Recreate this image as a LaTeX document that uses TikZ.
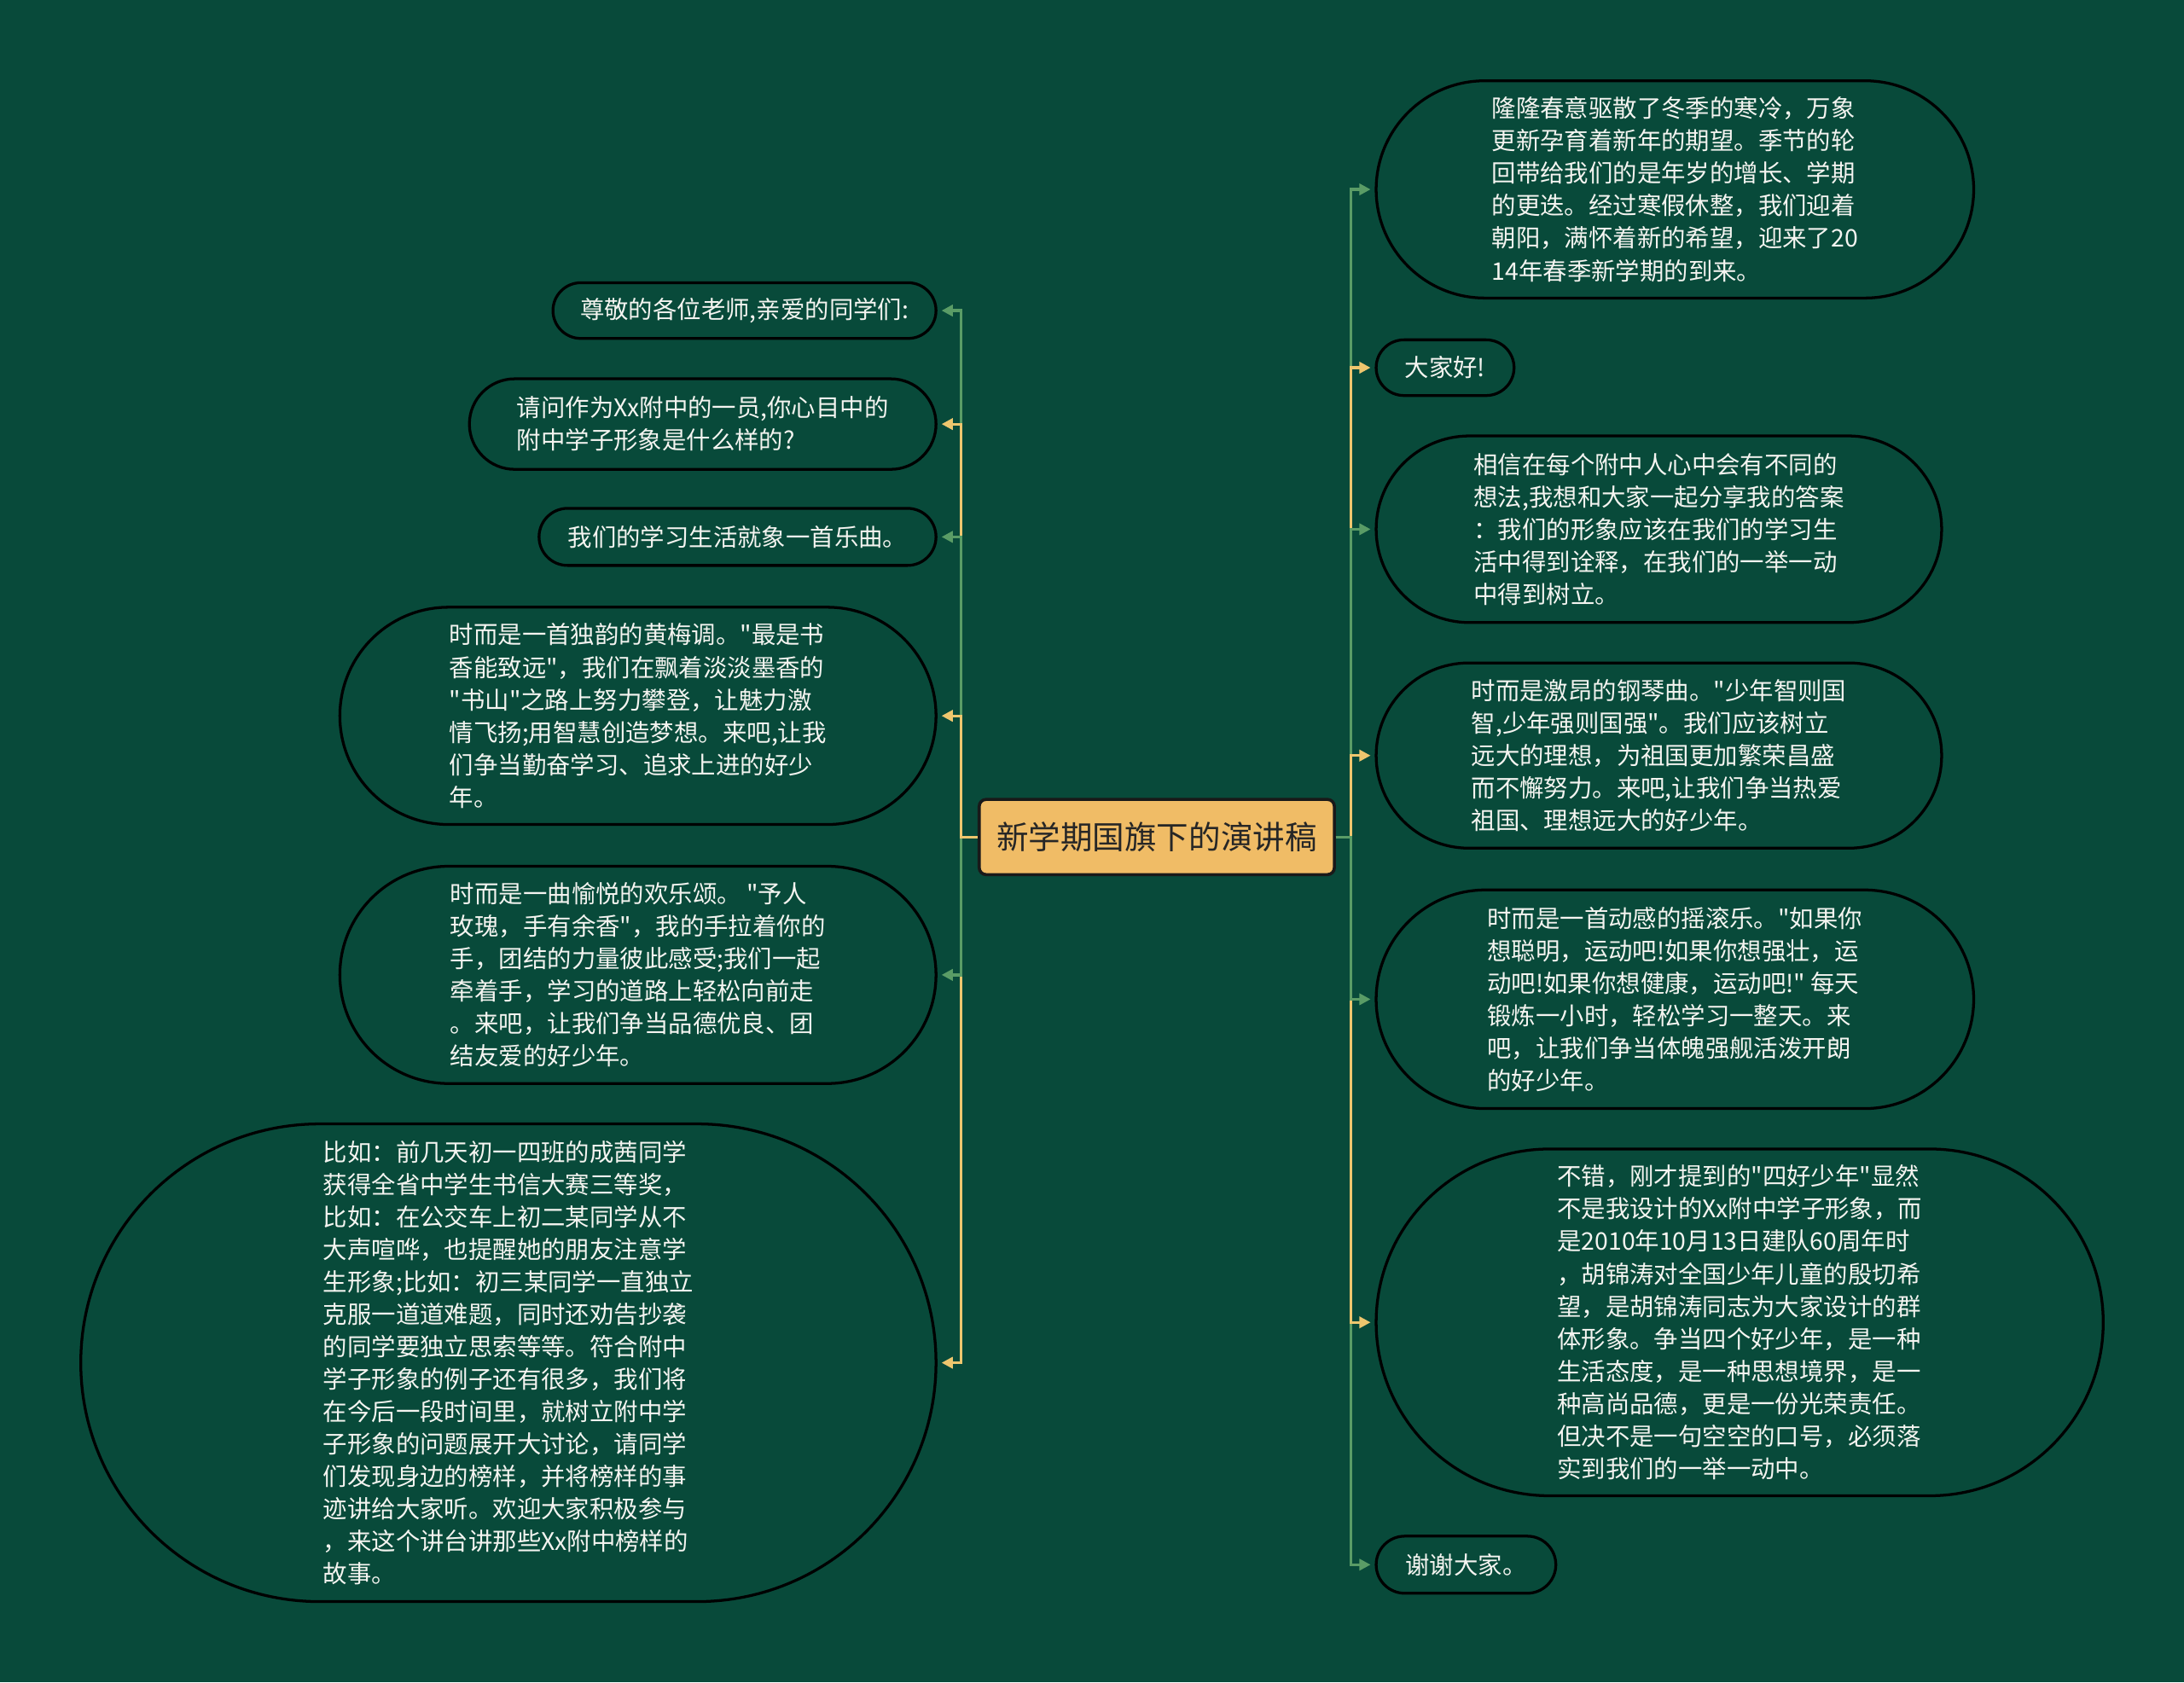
\documentclass[tikz,border=0pt]{standalone}
\usepackage{fontspec}
\newfontfamily\cjk{Noto Sans CJK SC}
\usetikzlibrary{shapes.misc,arrows.meta}
\definecolor{bg}{HTML}{084A3A}
\definecolor{gline}{HTML}{5A9C66}
\definecolor{yline}{HTML}{EEC66E}
\definecolor{rootfill}{HTML}{F0BC66}
\definecolor{txt}{HTML}{F4F4F0}
\tikzset{
  leaf/.style 2 args={shape=rounded rectangle, draw=black, line width=2pt, fill=bg,
    text=txt, align=left, font=\cjk\fontsize{17.4}{23.3}\selectfont,
    inner xsep=0pt, inner ysep=0pt, minimum width=#1, minimum height=#2},
  rootbox/.style={rectangle, rounded corners=5pt, draw=black!90, line width=2.2pt,
    fill=rootfill, text=black!85, font=\cjk\fontsize{23}{28}\selectfont,
    minimum width=255, minimum height=54, inner sep=0pt},
  conn/.style={draw=#1, line width=2pt, -{Triangle[length=8pt,width=8pt]}, shorten >=3pt}
}
\begin{document}
\begin{tikzpicture}[x=1pt,y=-1pt]
\fill[bg] (0,0) rectangle (1568,1208);
\useasboundingbox (0,0) rectangle (1568,1208);

\node[rootbox] (root) at (830.5,601) {新学期国旗下的演讲稿};

% left
\node[leaf={275}{40}] (L1) at (534.5,223) {尊敬的各位老师,亲爱的同学们:};
\node[leaf={335}{65}] (L2) at (504.5,304.5) {请问作为Xx附中的一员,你心目中的\\附中学子形象是什么样的?};
\node[leaf={285}{41}] (L3) at (529.5,385.5) {我们的学习生活就象一首乐曲。};
\node[leaf={428}{156}] (L4) at (458,514) {时而是一首独韵的黄梅调。"最是书\\香能致远"，我们在飘着淡淡墨香的\\"书山"之路上努力攀登，让魅力激\\情飞扬;用智慧创造梦想。来吧,让我\\们争当勤奋学习、追求上进的好少\\年。};
\node[leaf={428}{156}] (L5) at (458,700) {时而是一曲愉悦的欢乐颂。 "予人\\玫瑰，手有余香"，我的手拉着你的\\手，团结的力量彼此感受;我们一起\\牵着手，学习的道路上轻松向前走\\。来吧，让我们争当品德优良、团\\结友爱的好少年。};
\node[leaf={614}{343}] (L6) at (365,978.5) {比如：前几天初一四班的成茜同学\\获得全省中学生书信大赛三等奖，\\比如：在公交车上初二某同学从不\\大声喧哗，也提醒她的朋友注意学\\生形象;比如：初三某同学一直独立\\克服一道道难题，同时还劝告抄袭\\的同学要独立思索等等。符合附中\\学子形象的例子还有很多，我们将\\在今后一段时间里，就树立附中学\\子形象的问题展开大讨论，请同学\\们发现身边的榜样，并将榜样的事\\迹讲给大家听。欢迎大家积极参与\\，来这个讲台讲那些Xx附中榜样的\\故事。};

% right
\node[leaf={429}{156}] (R1) at (1202.5,136) {隆隆春意驱散了冬季的寒冷，万象\\更新孕育着新年的期望。季节的轮\\回带给我们的是年岁的增长、学期\\的更迭。经过寒假休整，我们迎着\\朝阳，满怀着新的希望，迎来了20\\14年春季新学期的到来。};
\node[leaf={99}{40}] (R2) at (1037.5,264) {大家好!};
\node[leaf={406}{134}] (R3) at (1191,380) {相信在每个附中人心中会有不同的\\想法,我想和大家一起分享我的答案\\：我们的形象应该在我们的学习生\\活中得到诠释，在我们的一举一动\\中得到树立。};
\node[leaf={406}{133}] (R4) at (1191,542.5) {时而是激昂的钢琴曲。"少年智则国\\智,少年强则国强"。我们应该树立\\远大的理想，为祖国更加繁荣昌盛\\而不懈努力。来吧,让我们争当热爱\\祖国、理想远大的好少年。};
\node[leaf={429}{157}] (R5) at (1202.5,717.5) {时而是一首动感的摇滚乐。"如果你\\想聪明，运动吧!如果你想强壮，运\\动吧!如果你想健康，运动吧!" 每天\\锻炼一小时，轻松学习一整天。来\\吧，让我们争当体魄强舰活泼开朗\\的好少年。};
\node[leaf={522}{249}] (R6) at (1249,949.5) {不错，刚才提到的"四好少年"显然\\不是我设计的Xx附中学子形象，而\\是2010年10月13日建队60周年时\\，胡锦涛对全国少年儿童的殷切希\\望，是胡锦涛同志为大家设计的群\\体形象。争当四个好少年，是一种\\生活态度，是一种思想境界，是一\\种高尚品德，更是一份光荣责任。\\但决不是一句空空的口号，必须落\\实到我们的一举一动中。};
\node[leaf={129}{41}] (R7) at (1052.5,1123.5) {谢谢大家。};

% connectors left (lower first, then upper outer-to-inner)
\draw[conn=yline] (root.west) -- ++(-12,0) |- (L6.east);
\draw[conn=gline] (root.west) -- ++(-12,0) |- (L5.east);
\draw[conn=gline] (root.west) -- ++(-12,0) |- (L1.east);
\draw[conn=yline] (root.west) -- ++(-12,0) |- (L2.east);
\draw[conn=gline] (root.west) -- ++(-12,0) |- (L3.east);
\draw[conn=yline] (root.west) -- ++(-12,0) |- (L4.east);

% connectors right
\draw[conn=gline] (root.east) -- ++(11,0) |- (R1.west);
\draw[conn=yline] (root.east) -- ++(11,0) |- (R2.west);
\draw[conn=gline] (root.east) -- ++(11,0) |- (R3.west);
\draw[conn=yline] (root.east) -- ++(11,0) |- (R4.west);
\draw[conn=gline] (root.east) -- ++(11,0) |- (R7.west);
\draw[conn=yline] (root.east) -- ++(11,0) |- (R6.west);
\draw[conn=gline] (root.east) -- ++(11,0) |- (R5.west);
\end{tikzpicture}
\end{document}
